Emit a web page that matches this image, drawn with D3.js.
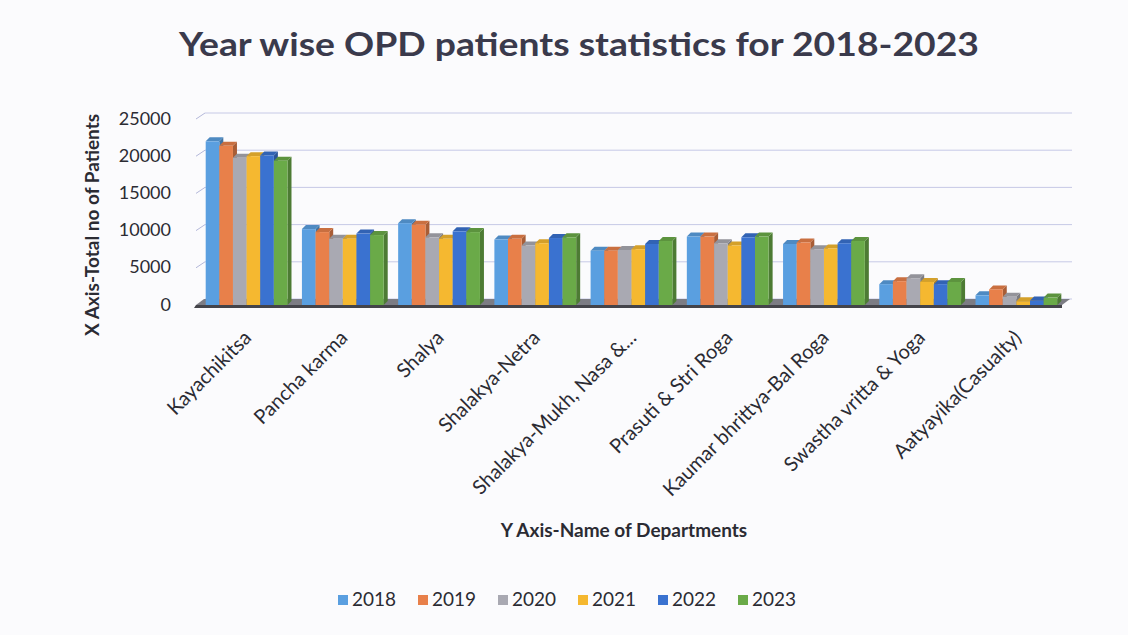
<!DOCTYPE html>
<html>
<head>
<meta charset="utf-8">
<script src="https://cdn.jsdelivr.net/npm/d3@7"></script>
<style>
  body { margin: 0; background: #fbfbfd; }
  text { font-family: Lato, "Open Sans", sans-serif; fill: #2b2b33; }
</style>
</head>
<body>
<div id="chart"></div>
<script>
const departments = ["Kayachikitsa", "Pancha karma", "Shalya", "Shalakya-Netra", "Shalakya-Mukh, Nasa &...",
  "Prasuti & Stri Roga", "Kaumar bhrittya-Bal Roga", "Swastha vritta & Yoga", "Aatyayika(Casualty)"];
const years = ["2018", "2019", "2020", "2021", "2022", "2023"];
const v2018 = [22000, 10200, 11000, 8800, 7300, 9200, 8200, 2800, 1300];
const v2019 = [21400, 9800, 10800, 8900, 7300, 9200, 8400, 3200, 2100];
const v2020 = [19800, 8900, 9100, 8000, 7400, 8300, 7500, 3600, 1100];
const v2021 = [20000, 8900, 8900, 8300, 7500, 8000, 7600, 3100, 500];
const v2022 = [20100, 9600, 9900, 9000, 8200, 9100, 8300, 2800, 600];
const v2023 = [19400, 9400, 9800, 9100, 8600, 9200, 8600, 3100, 1000];
const yTicks = [0, 5000, 10000, 15000, 20000, 25000];

const series = [v2018, v2019, v2020, v2021, v2022, v2023];
const colors = ["#5a9fe0", "#e8804a", "#a9a9b2", "#f5b830", "#3a72d0", "#6aaa48"];

const width = 1128, height = 635;
const depth = 4;

const svg = d3.select('#chart').append('svg').attr('width', width).attr('height', height);

const x = d3.scaleBand().domain(departments).range([198, 1065]).paddingInner(0.15).paddingOuter(0.08);
const xi = d3.scaleBand().domain(years).range([0, x.bandwidth()]);
const y = d3.scaleLinear().domain([0, 25000]).range([305, 119]);
const y0 = y(0);

// back wall gridlines
svg.append('g').selectAll('line')
  .data(yTicks)
  .enter().append('line')
  .attr('x1', 205).attr('x2', 1072)
  .attr('y1', d => y(d) - 6).attr('y2', d => y(d) - 6)
  .attr('stroke', '#c6c9e6').attr('stroke-width', 1);

svg.append('g').selectAll('line')
  .data(yTicks.filter(d => d > 0))
  .enter().append('line')
  .attr('x1', 196).attr('x2', 205)
  .attr('y1', d => y(d)).attr('y2', d => y(d) - 6)
  .attr('stroke', '#b4b8da').attr('stroke-width', 1);

// floor
svg.append('polygon')
  .attr('points', [[196, y0], [1062, y0], [1070, y0 - 6], [204, y0 - 6]].join(' '))
  .attr('fill', '#7c7c84');
svg.append('polygon')
  .attr('points', [[196, y0], [1062, y0], [1062, y0 + 3], [194, y0 + 3]].join(' '))
  .attr('fill', '#44444a');

// tick labels
svg.append('g').selectAll('text')
  .data(yTicks)
  .enter().append('text')
  .attr('x', 171).attr('y', d => y(d) + 1)
  .attr('text-anchor', 'end').attr('dominant-baseline', 'middle')
  .style('font-size', '18px')
  .text(d => d);

// bars
const groups = svg.append('g').selectAll('g')
  .data(departments)
  .enter().append('g')
  .attr('transform', d => `translate(${x(d)},0)`);

groups.each(function (dep, di) {
  const g = d3.select(this);
  years.forEach((yr, si) => {
    const v = series[si][di];
    const bx = xi(yr), bw = xi.bandwidth(), top = y(v);
    const c = d3.color(colors[si]);
    g.append('polygon')
      .attr('points', [[bx + bw, top], [bx + bw + depth, top - depth], [bx + bw + depth, y0 - depth], [bx + bw, y0]].join(' '))
      .attr('fill', c.darker(0.9));
    g.append('polygon')
      .attr('points', [[bx, top], [bx + depth, top - depth], [bx + bw + depth, top - depth], [bx + bw, top]].join(' '))
      .attr('fill', c.darker(0.4));
    g.append('rect')
      .attr('x', bx).attr('y', top)
      .attr('width', bw).attr('height', y0 - top)
      .attr('fill', colors[si]);
  });
});

// category labels
svg.append('g').selectAll('text')
  .data(departments)
  .enter().append('text')
  .attr('transform', d => `translate(${x(d) + x.bandwidth() / 2 + 6},${y0 + 34}) rotate(-45)`)
  .attr('text-anchor', 'end')
  .style('font-size', '20px')
  .text(d => d);

// titles
svg.append('text')
  .attr('x', 579).attr('y', 56)
  .attr('text-anchor', 'middle')
  .attr('textLength', 800).attr('lengthAdjust', 'spacingAndGlyphs')
  .style('font-size', '32px').style('font-weight', 'bold').style('fill', '#3a3a4c')
  .text('Year wise OPD patients statistics for 2018-2023');

svg.append('text')
  .attr('transform', 'translate(99,225) rotate(-90)')
  .attr('text-anchor', 'middle')
  .style('font-size', '19px').style('font-weight', 'bold')
  .text('X Axis-Total no of Patients');

svg.append('text')
  .attr('x', 624).attr('y', 537)
  .attr('text-anchor', 'middle')
  .style('font-size', '19px').style('font-weight', 'bold')
  .text('Y Axis-Name of Departments');

// legend
const legend = svg.append('g').selectAll('g')
  .data(years)
  .enter().append('g')
  .attr('transform', (d, i) => `translate(${338 + i * 80},600)`);
legend.append('rect')
  .attr('x', 0).attr('y', -5).attr('width', 10).attr('height', 10)
  .attr('fill', (d, i) => colors[i]);
legend.append('text')
  .attr('x', 14).attr('y', 1)
  .attr('dominant-baseline', 'middle')
  .style('font-size', '19px')
  .text(d => d);
</script>
</body>
</html>
